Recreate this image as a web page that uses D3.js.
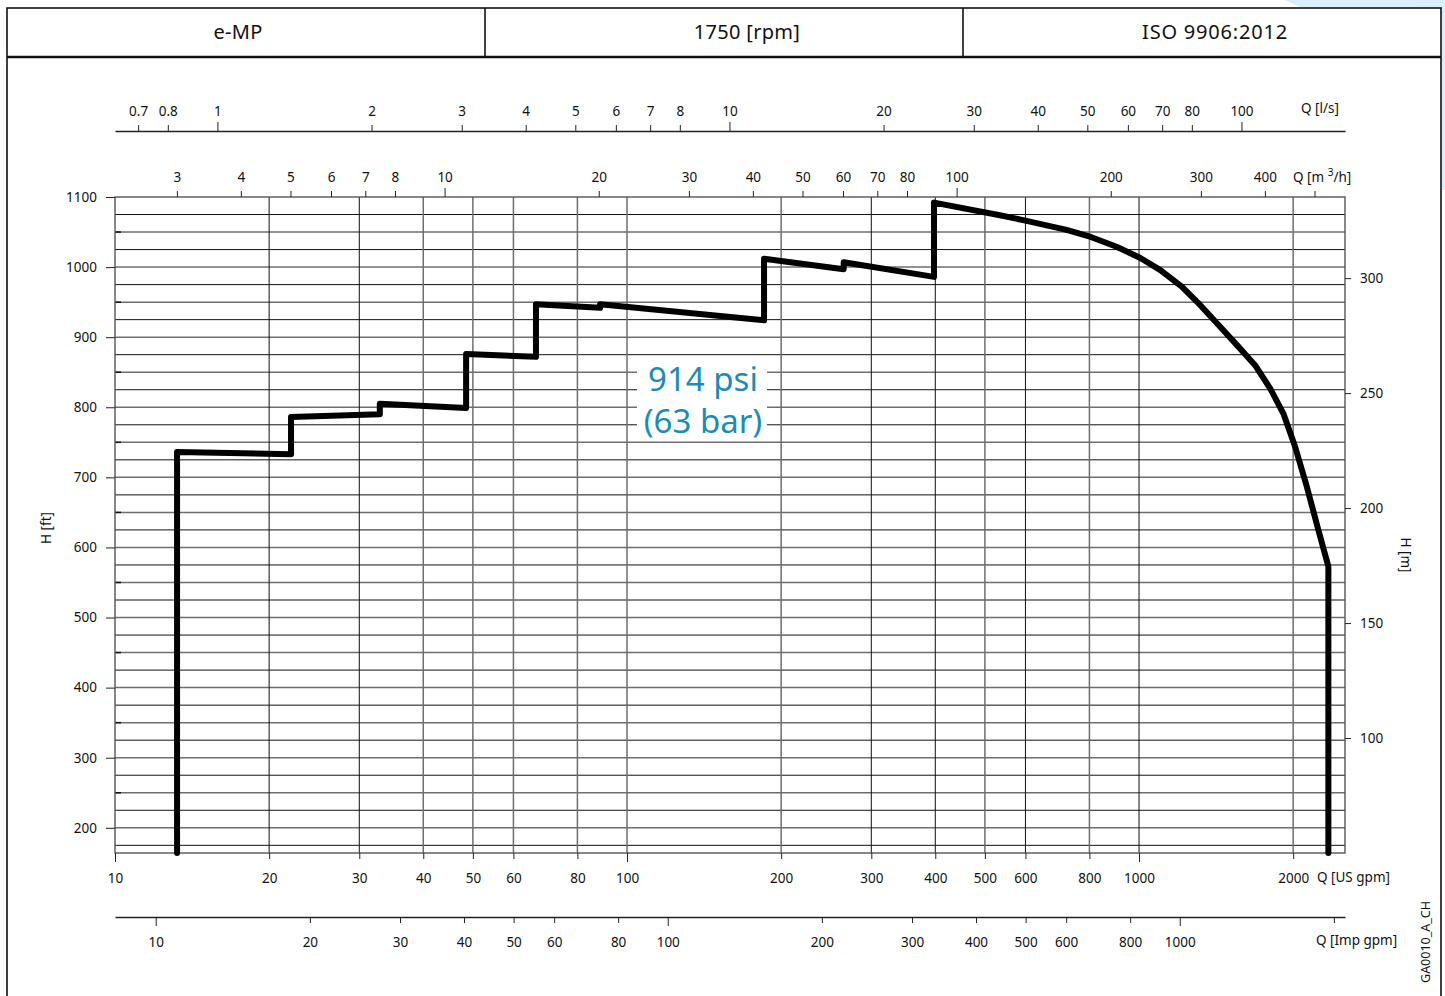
<!DOCTYPE html>
<html>
<head>
<meta charset="utf-8">
<script src="https://cdn.jsdelivr.net/npm/d3@7"></script>
<style>
  body { margin: 0; background: #fff; }
  svg { display: block; font-family: "Noto Sans", "Open Sans", sans-serif; }
  .axis text { font-size: 13.5px; fill: #111; font-family: "Noto Sans", sans-serif; }
  .axis path, .axis line { stroke: #222; }
</style>
</head>
<body>
<div id="chart"></div>
<script>
// ---- data ----
let headerTexts = ["e-MP", "1750 [rpm]", "ISO 9906:2012"];

let gpmTicks = [10, 20, 30, 40, 50, 60, 80, 100, 200, 300, 400, 500, 600, 800, 1000, 2000];
let gpmGrid = [20, 30, 40, 50, 60, 80, 100, 200, 300, 400, 500, 600, 800, 1000, 2000];
let impTicks = [10, 20, 30, 40, 50, 60, 80, 100, 200, 300, 400, 500, 600, 800, 1000, 2000];
let impLabelled = [10, 20, 30, 40, 50, 60, 80, 100, 200, 300, 400, 500, 600, 800, 1000];
let m3hTicks = [3, 4, 5, 6, 7, 8, 10, 20, 30, 40, 50, 60, 70, 80, 100, 200, 300, 400, 500];
let m3hLabelled = [3, 4, 5, 6, 7, 8, 10, 20, 30, 40, 50, 60, 70, 80, 100, 200, 300, 400];
let lsTicks = [0.7, 0.8, 1, 2, 3, 4, 5, 6, 7, 8, 10, 20, 30, 40, 50, 60, 70, 80, 100];
let ftTicks = [200, 300, 400, 500, 600, 700, 800, 900, 1000, 1100];
let mTicks = [100, 150, 200, 250, 300];

// pump curve envelope: flow [US gpm], head [ft]
let curveQ = [13.22, 13.22, 22.07, 22.07, 32.9, 32.9, 48.5, 48.5, 66.4, 66.4, 88.6, 88.6,
  185.2, 185.2, 265, 265, 397.7, 397.7, 535, 603, 722, 805, 904, 1006, 1099, 1212,
  1316, 1440, 1552, 1685, 1803, 1914, 2017, 2126, 2240, 2343, 2343];
let curveH = [164, 736, 733, 786, 790, 805, 799, 876, 872, 947, 942, 947,
  924, 1012, 997, 1007, 986, 1092, 1074, 1066, 1053, 1043, 1029, 1013, 996, 972,
  946, 915, 889, 860, 827, 791, 744, 687, 625, 573, 164];

let annotation = ["914 psi", "(63 bar)"];

// unit conversions from US gpm
let toM3h = 0.227125;
let toLs = 0.0630902;
let toImp = 0.832674;
let ftToM = 0.3048;

let width = 1445;
let height = 996;
let plotLeft = 115, plotRight = 1345, plotTop = 197, plotBottom = 853;
let qMin = 10, qMax = 2525;
let hMin = 50 / ftToM, hMax = 1100;

let svg = d3.select("#chart").append("svg")
  .attr("width", width)
  .attr("height", height);

// faint blue decoration top right
svg.append("path")
  .attr("d", "M1285,0 L1445,0 L1445,190 L1420,190 L1420,7 L1300,7 Z")
  .attr("fill", "#d9eff9");

// frame
svg.append("rect")
  .attr("x", 7).attr("y", 8).attr("width", 1434).attr("height", 1000)
  .attr("fill", "#fff").attr("stroke", "#111").attr("stroke-width", 1.6);
svg.append("line").attr("x1", 7).attr("x2", 1441).attr("y1", 57).attr("y2", 57)
  .attr("stroke", "#111").attr("stroke-width", 2.6);
[485, 963].forEach(function(xx) {
  svg.append("line").attr("x1", xx).attr("x2", xx).attr("y1", 8).attr("y2", 57)
    .attr("stroke", "#111").attr("stroke-width", 1.6);
});
let headerX = [238, 747, 1215];
headerTexts.forEach(function(t, i) {
  svg.append("text")
    .attr("x", headerX[i]).attr("y", 39)
    .attr("text-anchor", "middle")
    .attr("font-size", 20)
    .attr("fill", "#111")
    .attr("letter-spacing", i === 2 ? 0.8 : 0.3)
    .text(t);
});

// scales
let x = d3.scaleLog().domain([qMin, qMax]).range([plotLeft, plotRight]);
let xM3h = d3.scaleLog().domain([qMin * toM3h, qMax * toM3h]).range([plotLeft, plotRight]);
let xLs = d3.scaleLog().domain([qMin * toLs, qMax * toLs]).range([plotLeft, plotRight]);
let xImp = d3.scaleLog().domain([qMin * toImp, qMax * toImp]).range([plotLeft, plotRight]);
let y = d3.scaleLinear().domain([hMin, hMax]).range([plotBottom, plotTop]);
let yM = d3.scaleLinear().domain([hMin * ftToM, hMax * ftToM]).range([plotBottom, plotTop]);

// grid
let hGrid = d3.range(175, 1100, 25);
svg.append("g").selectAll("line")
  .data(hGrid)
  .enter().append("line")
  .attr("x1", plotLeft).attr("x2", plotRight)
  .attr("y1", function(d) { return y(d); })
  .attr("y2", function(d) { return y(d); })
  .attr("stroke", function(d) { return d % 50 === 0 ? "#6e6e6e" : "#111"; })
  .attr("stroke-width", function(d) { return d % 50 === 0 ? 1.5 : 1; });
svg.append("g").selectAll("line")
  .data(hGrid.filter(function(d) { return d % 100 === 50; }))
  .enter().append("line")
  .attr("x1", plotLeft).attr("x2", plotLeft + 6)
  .attr("y1", function(d) { return y(d); })
  .attr("y2", function(d) { return y(d); })
  .attr("stroke", "#111").attr("stroke-width", 1.5);

let darkV = [30, 300, 400, 600, 1000, 20];
svg.append("g").selectAll("line")
  .data(gpmGrid)
  .enter().append("line")
  .attr("x1", function(d) { return x(d); })
  .attr("x2", function(d) { return x(d); })
  .attr("y1", plotTop).attr("y2", plotBottom)
  .attr("stroke", function(d) { return darkV.indexOf(d) >= 0 ? "#111" : "#6e6e6e"; })
  .attr("stroke-width", function(d) { return darkV.indexOf(d) >= 0 ? 1 : 1.5; });

svg.append("rect")
  .attr("x", plotLeft).attr("y", plotTop)
  .attr("width", plotRight - plotLeft).attr("height", plotBottom - plotTop)
  .attr("fill", "none").attr("stroke", "#555").attr("stroke-width", 1.4);

// axes
let fmt = d3.format("~g");

let bottomAxis = svg.append("g").attr("class", "axis")
  .attr("transform", "translate(0," + plotBottom + ")")
  .call(d3.axisBottom(x).tickValues(gpmTicks).tickFormat(fmt).tickSize(7).tickSizeOuter(0).tickPadding(13));
bottomAxis.select(".domain").remove();
bottomAxis.selectAll(".tick line").attr("y2", function(d) { return (d === 10 || d === 100 || d === 1000) ? 9 : 6; });

let impAxis = svg.append("g").attr("class", "axis")
  .attr("transform", "translate(0,917)")
  .call(d3.axisBottom(xImp).tickValues(impTicks).tickSize(7).tickSizeOuter(0).tickPadding(13)
    .tickFormat(function(d) { return impLabelled.indexOf(d) >= 0 ? fmt(d) : ""; }));
impAxis.select(".domain").attr("stroke", "#444").attr("stroke-width", 1.3);
impAxis.selectAll(".tick line").attr("y2", function(d) { return (d === 10 || d === 100 || d === 1000) ? 9 : 6; });

let m3hAxis = svg.append("g").attr("class", "axis")
  .attr("transform", "translate(0," + plotTop + ")")
  .call(d3.axisTop(xM3h).tickValues(m3hTicks).tickSize(6).tickSizeOuter(0).tickPadding(9)
    .tickFormat(function(d) { return m3hLabelled.indexOf(d) >= 0 ? fmt(d) : ""; }));
m3hAxis.select(".domain").remove();
m3hAxis.selectAll(".tick line").attr("y2", function(d) { return (d === 10 || d === 100) ? -9 : -6; });

let lsAxis = svg.append("g").attr("class", "axis")
  .attr("transform", "translate(0,131)")
  .call(d3.axisTop(xLs).tickValues(lsTicks).tickFormat(fmt).tickSize(6).tickSizeOuter(0).tickPadding(9));
lsAxis.select(".domain").attr("stroke", "#444").attr("stroke-width", 1.3);
lsAxis.selectAll(".tick line").attr("y2", function(d) { return (d === 1 || d === 10 || d === 100) ? -9 : -6; });

let leftAxis = svg.append("g").attr("class", "axis")
  .attr("transform", "translate(" + plotLeft + ",0)")
  .call(d3.axisLeft(y).tickValues(ftTicks).tickFormat(d3.format("d")).tickSize(9).tickSizeOuter(0).tickPadding(9));
leftAxis.select(".domain").remove();

let rightAxis = svg.append("g").attr("class", "axis")
  .attr("transform", "translate(" + plotRight + ",0)")
  .call(d3.axisRight(yM).tickValues(mTicks).tickFormat(d3.format("d")).tickSize(6).tickSizeOuter(0).tickPadding(9));
rightAxis.select(".domain").remove();

// axis titles
function label(tx, ty, txt, opts) {
  let t = svg.append("text")
    .attr("font-size", 13.5).attr("fill", "#111")
    .attr("dominant-baseline", "middle");
  if (opts && opts.rotate) {
    t.attr("transform", "translate(" + tx + "," + ty + ") rotate(" + opts.rotate + ")")
      .attr("text-anchor", "middle");
  }
  else {
    t.attr("x", tx).attr("y", ty);
  }
  t.text(txt);
  return t;
}
label(1317, 878, "Q [US gpm]");
label(1316, 941, "Q [Imp gpm]");
label(1301, 109, "Q [l/s]");
let m3 = svg.append("text").attr("x", 1293).attr("y", 182).attr("font-size", 13.5).attr("fill", "#111");
m3.append("tspan").text("Q [m ");
m3.append("tspan").attr("font-size", 10).attr("dy", -6).text("3");
m3.append("tspan").attr("dy", 6).text("/h]");
label(47, 528, "H [ft]", { rotate: -90 });
label(1405, 555, "H [m]", { rotate: 90 });
label(1427, 942, "GA0010_A_CH", { rotate: -90 }).attr("font-size", 12.5);

// pump curve
let curve = curveQ.map(function(q, i) { return [q, curveH[i]]; });
let line = d3.line()
  .x(function(d) { return x(d[0]); })
  .y(function(d) { return y(d[1]); });
svg.append("path")
  .datum(curve)
  .attr("d", line)
  .attr("fill", "none")
  .attr("stroke", "#000")
  .attr("stroke-width", 6)
  .attr("stroke-linejoin", "round")
  .attr("stroke-linecap", "round");

// pressure annotation
svg.append("rect")
  .attr("x", 637).attr("y", 360).attr("width", 130).attr("height", 76)
  .attr("fill", "#fff");
annotation.forEach(function(t, i) {
  svg.append("text")
    .attr("x", 703).attr("y", 378 + i * 42)
    .attr("dominant-baseline", "central")
    .attr("text-anchor", "middle")
    .attr("font-size", 33)
    .attr("fill", "#1a8db5")
    .text(t);
});
</script>
</body>
</html>
